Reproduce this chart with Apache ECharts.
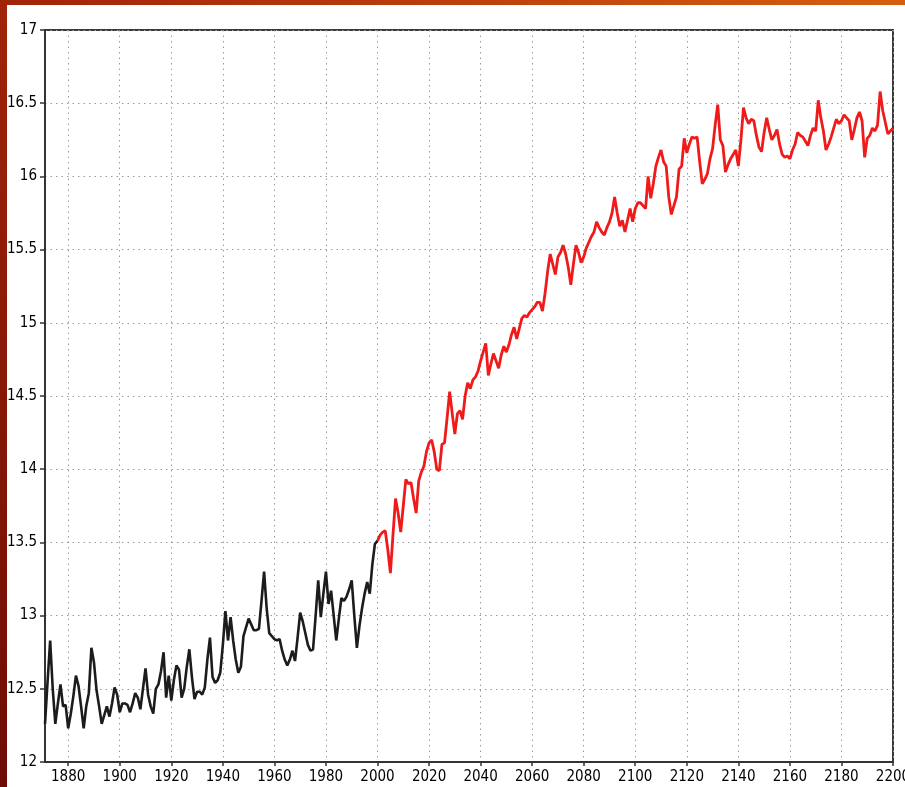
<!DOCTYPE html>
<html>
<head>
<meta charset="utf-8">
<script src="https://cdn.jsdelivr.net/npm/echarts@6/dist/echarts.min.js"></script>
<style>
  html, body { margin: 0; padding: 0; }
  #chart { width: 905px; height: 787px; }
</style>
</head>
<body>
<div id="chart"></div>
<script>
// Observed global mean temperature (black), 1871-2000
const observedStartYear = 1871;
const observedValues = [
  12.26, 12.55, 12.83, 12.50, 12.26, 12.40, 12.53, 12.38, 12.39, 12.23,
  12.33, 12.45, 12.59, 12.52, 12.38, 12.23, 12.38, 12.47, 12.78, 12.68,
  12.49, 12.38, 12.26, 12.32, 12.38, 12.31, 12.40, 12.51, 12.46, 12.34,
  12.40, 12.40, 12.39, 12.34, 12.40, 12.47, 12.44, 12.36, 12.50, 12.64,
  12.46, 12.38, 12.33, 12.50, 12.53, 12.62, 12.75, 12.44, 12.59, 12.42,
  12.56, 12.66, 12.63, 12.44, 12.50, 12.65, 12.77, 12.58, 12.43, 12.48,
  12.48, 12.46, 12.51, 12.70, 12.85, 12.58, 12.54, 12.56, 12.61, 12.80,
  13.03, 12.83, 12.99, 12.83, 12.70, 12.61, 12.65, 12.86, 12.92, 12.98,
  12.94, 12.90, 12.90, 12.91, 13.10, 13.30, 13.05, 12.88, 12.86, 12.84,
  12.83, 12.84, 12.76, 12.70, 12.66, 12.70, 12.76, 12.69, 12.85, 13.02,
  12.96, 12.88, 12.80, 12.76, 12.77, 13.00, 13.24, 12.99, 13.15, 13.30,
  13.08, 13.17, 13.00, 12.83, 12.98, 13.12, 13.10, 13.13, 13.18, 13.24,
  13.00, 12.78, 12.93, 13.05, 13.15, 13.23, 13.15, 13.35, 13.49, 13.51
];

// Projected temperature (red), 2000-2200
const projectedStartYear = 2000;
const projectedValues = [
  13.51,
  13.55, 13.57, 13.58, 13.45, 13.29, 13.55, 13.80, 13.70, 13.57, 13.75,
  13.93, 13.90, 13.91, 13.80, 13.70, 13.92, 13.98, 14.02, 14.12, 14.18,
  14.20, 14.12, 14.00, 13.99, 14.17, 14.18, 14.35, 14.53, 14.38, 14.24,
  14.38, 14.40, 14.34, 14.50, 14.59, 14.55, 14.61, 14.63, 14.67, 14.74,
  14.80, 14.86, 14.64, 14.72, 14.79, 14.74, 14.69, 14.78, 14.84, 14.80,
  14.85, 14.92, 14.97, 14.89, 14.96, 15.03, 15.05, 15.04, 15.07, 15.09,
  15.11, 15.14, 15.14, 15.08, 15.20, 15.35, 15.47, 15.40, 15.33, 15.45,
  15.48, 15.53, 15.47, 15.38, 15.26, 15.40, 15.53, 15.48, 15.41, 15.45,
  15.51, 15.55, 15.59, 15.62, 15.69, 15.65, 15.62, 15.60, 15.65, 15.69,
  15.75, 15.86, 15.75, 15.66, 15.70, 15.62, 15.70, 15.78, 15.69, 15.78,
  15.82, 15.82, 15.80, 15.78, 16.00, 15.85, 15.95, 16.07, 16.13, 16.18,
  16.10, 16.07, 15.86, 15.74, 15.80, 15.86, 16.05, 16.07, 16.26, 16.16,
  16.22, 16.27, 16.26, 16.27, 16.10, 15.95, 15.98, 16.02, 16.12, 16.19,
  16.35, 16.49, 16.25, 16.21, 16.03, 16.08, 16.12, 16.15, 16.18, 16.07,
  16.25, 16.47, 16.40, 16.36, 16.39, 16.38, 16.28, 16.20, 16.17, 16.30,
  16.40, 16.32, 16.25, 16.28, 16.32, 16.22, 16.15, 16.13, 16.14, 16.12,
  16.18, 16.22, 16.30, 16.28, 16.27, 16.24, 16.21, 16.28, 16.33, 16.31,
  16.52, 16.40, 16.31, 16.18, 16.22, 16.27, 16.33, 16.39, 16.36, 16.38,
  16.42, 16.40, 16.38, 16.25, 16.32, 16.40, 16.44, 16.38, 16.13, 16.26,
  16.28, 16.33, 16.31, 16.35, 16.58, 16.45, 16.37, 16.29, 16.31, 16.33
];

// Axis settings
const xMin = 1871;
const xMax = 2200;
const xTickValues = [1880, 1900, 1920, 1940, 1960, 1980, 2000, 2020, 2040, 2060,
                     2080, 2100, 2120, 2140, 2160, 2180, 2200];
const yMin = 12;
const yMax = 17;
const yInterval = 0.5;

const observedData = observedValues.map((v, i) => [observedStartYear + i, v]);
const projectedData = projectedValues.map((v, i) => [projectedStartYear + i, v]);

const labelFont = {
  color: '#000',
  fontFamily: '"Liberation Sans Narrow", "DejaVu Sans Condensed", "Liberation Sans", sans-serif',
  fontSize: 15
};

const chart = echarts.init(document.getElementById('chart'), null, { renderer: 'canvas' });
chart.setOption({
  animation: false,
  backgroundColor: new echarts.graphic.LinearGradient(0, 1, 1, 0, [
    { offset: 0, color: '#6e0c05' },
    { offset: 0.5, color: '#a8280a' },
    { offset: 1, color: '#d4600f' }
  ]),
  graphic: [{
    type: 'rect',
    left: 7, top: 5,
    shape: { width: 898, height: 782 },
    style: { fill: '#ffffff' },
    silent: true,
    z: -10
  }],
  grid: {
    left: 45, right: 12, top: 30, bottom: 25,
    outerBoundsMode: 'none',
    containLabel: false,
    show: true,
    borderColor: '#3a3a3a',
    borderWidth: 2,
    backgroundColor: 'transparent'
  },
  xAxis: {
    type: 'value',
    min: xMin,
    max: xMax,
    axisLine: { show: true, lineStyle: { color: '#333', width: 2 } },
    axisTick: { show: true, length: 4, customValues: xTickValues, lineStyle: { color: '#333', width: 1.5 } },
    axisLabel: Object.assign({ margin: 8, customValues: xTickValues, formatter: v => String(v), hideOverlap: false }, labelFont),
    splitLine: { show: true, lineStyle: { color: '#9a9a9a', width: 1, type: [1.5, 4] } }
  },
  yAxis: {
    type: 'value',
    min: yMin,
    max: yMax,
    interval: yInterval,
    axisLine: { show: true, lineStyle: { color: '#333', width: 2 } },
    axisTick: { show: true, length: 5, lineStyle: { color: '#333', width: 1.5 } },
    axisLabel: Object.assign({ margin: 8 }, labelFont),
    splitLine: { show: true, lineStyle: { color: '#9a9a9a', width: 1, type: [1.5, 4] } }
  },
  series: [
    {
      name: 'Observed',
      type: 'line',
      data: observedData,
      showSymbol: false,
      lineStyle: { color: '#1c1c1c', width: 2.6 },
      z: 3
    },
    {
      name: 'Projected',
      type: 'line',
      data: projectedData,
      showSymbol: false,
      lineStyle: { color: '#f01a1a', width: 2.8 },
      z: 2
    }
  ]
});
</script>
</body>
</html>
